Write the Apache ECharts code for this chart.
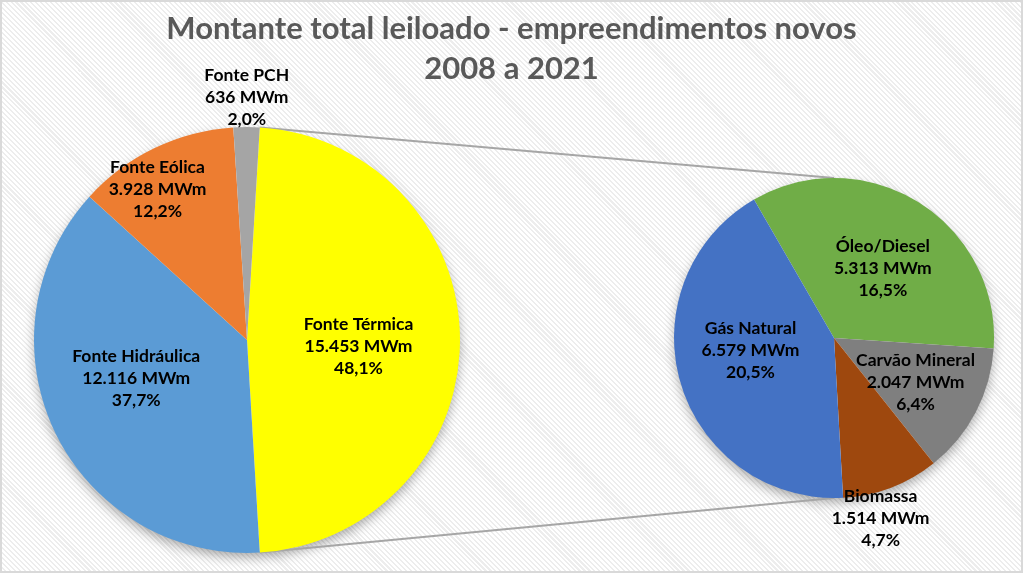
<!DOCTYPE html>
<html>
<head>
<meta charset="utf-8">
<script src="https://cdn.jsdelivr.net/npm/echarts@6/dist/echarts.min.js"></script>
<style>
  html, body { margin: 0; padding: 0; }
  #chart {
    width: 1023px; height: 573px; box-sizing: border-box;
    border: 2px solid #d9d9d9;
    background: repeating-linear-gradient(45deg, #ffffff 0px, #ffffff 2px, #ededed 2px, #ededed 3.5px);
  }
</style>
</head>
<body>
<div id="chart"></div>
<script>
// ---- data ----
const titleLines = ['Montante total leiloado - empreendimentos novos', '2008 a 2021'];
const leftNames = ['Fonte Térmica', 'Fonte Hidráulica', 'Fonte Eólica', 'Fonte PCH'];
const leftValues = [15453, 12116, 3928, 636];
const rightNames = ['Óleo/Diesel', 'Carvão Mineral', 'Biomassa', 'Gás Natural'];
const rightValues = [5313, 2047, 1514, 6579];
const unit = 'MWm';

// ---- styles / layout ----
const leftColors = ['#FFFF00', '#5B9BD5', '#ED7D31', '#A5A5A5'];
const rightColors = ['#70AD47', '#7F7F7F', '#9E480E', '#4472C4'];
const leftCenter = [245, 338], leftR = 213;
const rightCenter = [832, 336], rightR = 160;
const rightStart = 120;
const leftOffsets = [[2, 6], [-12, -9], [-42, -52], [0, -133]];
const rightOffsets = [[5, 1], [8, 6], [17, 103], [-4, -11]];
const fontFam = 'Lato, "Open Sans", sans-serif';

const total = leftValues.reduce((a, b) => a + b, 0);
const fmtInt = v => String(v).replace(/\B(?=(\d{3})+(?!\d))/g, '.');
const fmtPct = v => (v / total * 100).toFixed(1).replace('.', ',') + '%';
const labelText = (name, v) => name + '\n' + fmtInt(v) + ' ' + unit + '\n' + fmtPct(v);

const leftStart = 360 * (leftValues[0] / total) / 2;

function mkData(names, values, colors, offsets) {
  return names.map((n, i) => ({
    name: n, value: values[i],
    itemStyle: { color: colors[i] },
    label: { offset: offsets[i] }
  }));
}

// connector geometry derived from the pie angles
const rad = d => d * Math.PI / 180;
const ptOn = (c, r, a) => [c[0] + r * Math.cos(rad(a)), c[1] - r * Math.sin(rad(a))];
const lTop = ptOn(leftCenter, leftR, leftStart);
const lBot = ptOn(leftCenter, leftR, leftStart - 360 * leftValues[0] / total);
const rTop = ptOn(rightCenter, rightR, 90);
const rBot = ptOn(rightCenter, rightR, -90);

const labelCfg = {
  show: true, position: 'inside', color: '#000', fontWeight: 'bold',
  fontSize: 17.5, lineHeight: 22, fontFamily: fontFam, align: 'center',
  formatter: p => labelText(p.name, p.value)
};

const chart = echarts.init(document.getElementById('chart'));
chart.setOption({
  backgroundColor: 'transparent',
  animation: false,
  title: {
    text: titleLines.join('\n'), left: 'center', top: 2,
    textStyle: { color: '#595959', fontSize: 31, fontWeight: 'bold', lineHeight: 40, fontFamily: fontFam }
  },
  graphic: [
    { type: 'circle', z: 0, silent: true, shape: { cx: leftCenter[0], cy: leftCenter[1], r: leftR - 1 },
      style: { fill: '#fff', shadowBlur: 12, shadowOffsetY: 5, shadowColor: 'rgba(0,0,0,0.35)' } },
    { type: 'circle', z: 0, silent: true, shape: { cx: rightCenter[0], cy: rightCenter[1], r: rightR - 1 },
      style: { fill: '#fff', shadowBlur: 12, shadowOffsetY: 5, shadowColor: 'rgba(0,0,0,0.35)' } },
    { type: 'line', z: 1, silent: true, shape: { x1: lTop[0], y1: lTop[1], x2: rTop[0], y2: rTop[1] },
      style: { stroke: '#a6a6a6', lineWidth: 2 } },
    { type: 'line', z: 1, silent: true, shape: { x1: lBot[0], y1: lBot[1], x2: rBot[0], y2: rBot[1] },
      style: { stroke: '#a6a6a6', lineWidth: 2 } }
  ],
  series: [
    {
      type: 'pie', z: 3, center: leftCenter, radius: leftR, startAngle: leftStart, clockwise: true,
      avoidLabelOverlap: false, silent: true, emphasis: { disabled: true },
      label: labelCfg, labelLine: { show: false },
      data: mkData(leftNames, leftValues, leftColors, leftOffsets)
    },
    {
      type: 'pie', z: 3, center: rightCenter, radius: rightR, startAngle: rightStart, clockwise: true,
      avoidLabelOverlap: false, silent: true, emphasis: { disabled: true },
      label: labelCfg, labelLine: { show: false },
      data: mkData(rightNames, rightValues, rightColors, rightOffsets)
    }
  ]
});
</script>
</body>
</html>
